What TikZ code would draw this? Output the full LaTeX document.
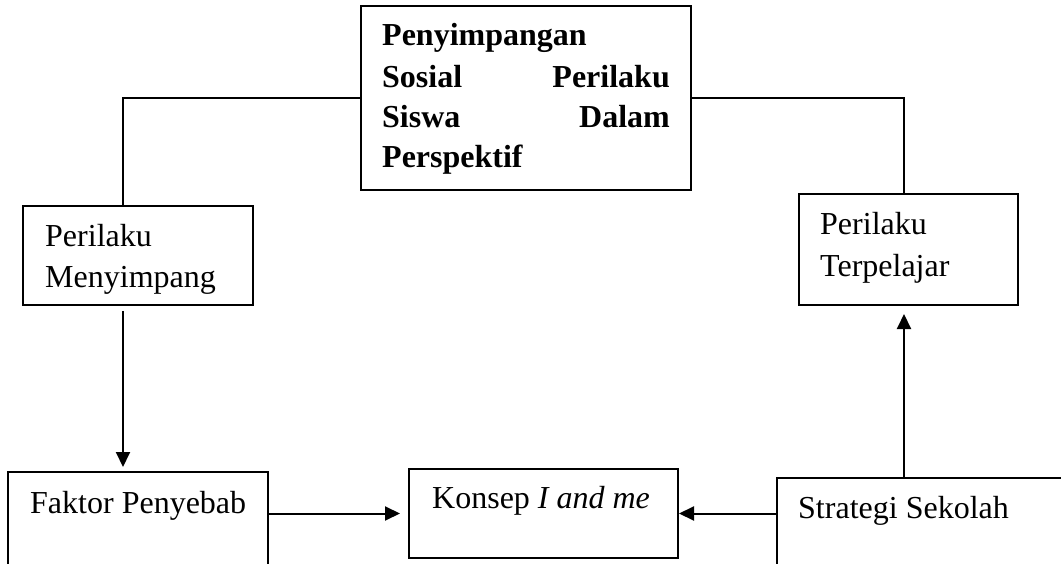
\documentclass[tikz,border=0pt]{standalone}
\usepackage{fontspec}
\setmainfont{Liberation Serif}
\usetikzlibrary{arrows.meta}
\begin{document}
\begin{tikzpicture}[x=1pt,y=-1pt,
  box/.style={draw=black,line width=2pt,rectangle,inner sep=0pt},
  txt/.style={inner sep=0pt,font=\fontsize{32}{38}\selectfont},
  txtb/.style={txt,font=\fontsize{32}{38}\selectfont\bfseries},
  conn/.style={draw=black,line width=2pt},
  arr/.style={conn,-{Triangle[length=15pt,width=14pt]}}]
\clip (0,0) rectangle (1061,564);
\fill[white] (0,0) rectangle (1061,564);
% boxes
\node[box,minimum width=330pt,minimum height=184pt] (tb) at (526,98) {};
\node[box,minimum width=230pt,minimum height=99pt] (lb) at (138,255.5) {};
\node[box,minimum width=219pt,minimum height=111pt] (rb) at (908.5,249.5) {};
\node[box,minimum width=260pt,minimum height=140pt] (fb) at (138,542) {};
\node[box,minimum width=269pt,minimum height=89pt] (kb) at (543.5,513.5) {};
\node[box,minimum width=320pt,minimum height=140pt] (sb) at (937,548) {};
% texts
\node[txtb,anchor=base west] (t1) at (382,46) {Penyimpangan};
\node[txtb,anchor=base west] (t2a) at (382,88) {Sosial};
\node[txtb,anchor=base east] (t2b) at (670,88) {Perilaku};
\node[txtb,anchor=base west] (t3a) at (382,128) {Siswa};
\node[txtb,anchor=base east] (t3b) at (670,128) {Dalam};
\node[txtb,anchor=base west] (t4) at (382,168) {Perspektif};
\node[txt,anchor=base west] (l1) at (45,247) {Perilaku};
\node[txt,anchor=base west] (l2) at (45,288) {Menyimpang};
\node[txt,anchor=base west] (r1) at (820,235) {Perilaku};
\node[txt,anchor=base west] (r2) at (820,277) {Terpelajar};
\node[txt,anchor=base west] (f1) at (30,513) {Faktor Penyebab};
\node[txt,anchor=base west] (k1) at (432,508) {Konsep \textit{I and me}};
\node[txt,anchor=base west] (s1) at (798,518) {Strategi Sekolah};
% connectors
\coordinate (lc) at ([xshift=-15pt]lb.north);
\coordinate (rc) at ([xshift=-4.5pt]rb.north);
\draw[conn] (tb.west) -| (lc);
\draw[conn] (tb.east) -| (rc);
\coordinate (ls) at ([xshift=-15pt,yshift=-5pt]lb.south);
\draw[arr,shorten >=4pt] (ls) -- (ls |- fb.north);
\draw[arr,shorten >=8pt] (fb.east |- kb.west) -- (kb.west);
\draw[arr] (sb.west |- kb.east) -- (kb.east);
\coordinate (rs) at ([xshift=-4.5pt,yshift=-8pt]rb.south);
\draw[arr] (sb.north -| rs) -- (rs);
\end{tikzpicture}
\end{document}
